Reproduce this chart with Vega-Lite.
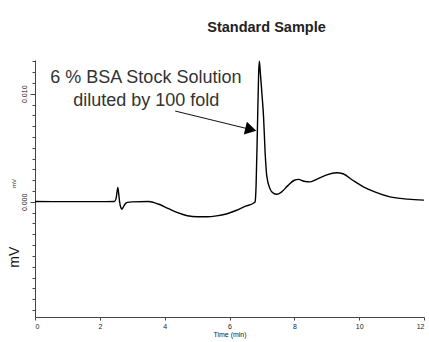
{
  "$schema": "https://vega.github.io/schema/vega-lite/v6.json",
  "autosize": {"type": "none"},
  "padding": {"left": 35, "top": 60, "right": 5, "bottom": 25},
  "width": 389,
  "height": 257,
  "background": "white",
  "config": {
    "view": {"stroke": null},
    "font": "Liberation Sans"
  },
  "title": {
    "text": "Standard Sample",
    "fontSize": 14.5,
    "fontWeight": "bold",
    "font": "Liberation Sans",
    "color": "#222",
    "anchor": "middle",
    "dx": 37,
    "offset": 25
  },
  "datasets": {
    "curve": [
      {"t": 0, "v": 0.00003},
      {"t": 1.0, "v": 0.00002},
      {"t": 2.0, "v": 0.00002},
      {"t": 2.45, "v": 0.00003},
      {"t": 2.5, "v": 0.0003},
      {"t": 2.53, "v": 0.0009},
      {"t": 2.555, "v": 0.00133},
      {"t": 2.58, "v": 0.0008},
      {"t": 2.61, "v": 0.0},
      {"t": 2.645, "v": -0.0005},
      {"t": 2.68, "v": -0.00068},
      {"t": 2.72, "v": -0.0005},
      {"t": 2.78, "v": -0.0002},
      {"t": 2.85, "v": -0.00005},
      {"t": 3.0, "v": 0.0},
      {"t": 3.5, "v": 0.00003},
      {"t": 3.8, "v": -0.0002},
      {"t": 4.1, "v": -0.0006},
      {"t": 4.4, "v": -0.001},
      {"t": 4.7, "v": -0.00128},
      {"t": 5.0, "v": -0.00138},
      {"t": 5.3, "v": -0.00138},
      {"t": 5.6, "v": -0.0013},
      {"t": 5.9, "v": -0.00112},
      {"t": 6.2, "v": -0.0008},
      {"t": 6.5, "v": -0.0004},
      {"t": 6.75, "v": -0.0001},
      {"t": 6.79, "v": 0.0},
      {"t": 6.82, "v": 0.0015},
      {"t": 6.86, "v": 0.0066},
      {"t": 6.9, "v": 0.012},
      {"t": 6.92, "v": 0.013},
      {"t": 6.95, "v": 0.012},
      {"t": 7.0, "v": 0.01},
      {"t": 7.05, "v": 0.0079},
      {"t": 7.1, "v": 0.0045},
      {"t": 7.15, "v": 0.0024},
      {"t": 7.25, "v": 0.0012},
      {"t": 7.35, "v": 0.0008},
      {"t": 7.46, "v": 0.0007},
      {"t": 7.6, "v": 0.0009},
      {"t": 7.8, "v": 0.0015},
      {"t": 8.0, "v": 0.002},
      {"t": 8.13, "v": 0.00208},
      {"t": 8.3, "v": 0.0019},
      {"t": 8.49, "v": 0.00185},
      {"t": 8.7, "v": 0.0021},
      {"t": 9.0, "v": 0.0025},
      {"t": 9.31, "v": 0.00269},
      {"t": 9.5, "v": 0.0026},
      {"t": 9.8, "v": 0.002},
      {"t": 10.13, "v": 0.00139},
      {"t": 10.5, "v": 0.0009},
      {"t": 10.95, "v": 0.00046},
      {"t": 11.5, "v": 0.00025},
      {"t": 12.0, "v": 0.00016}
    ],
    "arrow": [
      {"t": 4.325, "v": 0.0084, "t2": 6.658, "v2": 0.00669}
    ],
    "head": [
      {"t": 6.658, "v": 0.00669}
    ],
    "note": [
      {"t": 3.42, "v": 0.01099, "label": "6 % BSA Stock Solution"},
      {"t": 3.43, "v": 0.00885, "label": "diluted by 100 fold"}
    ],
    "unit": [
      {"t": -0.607, "v": -0.00512, "label": "mV"}
    ]
  },
  "resolve": {"axis": {"y": "independent"}},
  "layer": [
    {
      "data": {"name": "curve"},
      "mark": {"type": "line", "color": "#000", "strokeWidth": 1.4, "interpolate": "monotone", "clip": true},
      "encoding": {
        "x": {
          "field": "t",
          "type": "quantitative",
          "scale": {"domain": [0, 12], "nice": false, "zero": false},
          "axis": {
            "values": [0, 1, 2, 3, 4, 5, 6, 7, 8, 9, 10, 11, 12],
            "labelExpr": "datum.value % 2 == 0 ? datum.label : ''",
            "grid": false,
            "tickSize": 3,
            "tickColor": "#444",
            "domainColor": "#444",
            "labelFontSize": 7,
            "labelColor": "#222",
            "labelPadding": 2,
            "labelFont": "Liberation Sans",
            "title": "Time (min)",
            "titleFontSize": 7,
            "titleFontWeight": "normal",
            "titleColor": "#222222",
            "titlePadding": 1,
            "titleFont": "Liberation Sans"
          }
        },
        "y": {
          "field": "v",
          "type": "quantitative",
          "scale": {"domain": [-0.01065, 0.01312], "nice": false, "zero": false},
          "axis": {
            "values": [-0.01, -0.009, -0.008, -0.007, -0.006, -0.005, -0.004, -0.003, -0.002, -0.001, 0, 0.001, 0.002, 0.003, 0.004, 0.005, 0.006, 0.007, 0.008, 0.009, 0.01, 0.011, 0.012, 0.013],
            "labelExpr": "(abs(datum.value) < 0.000001 || abs(datum.value - 0.01) < 0.000001) ? format(datum.value, '.3f') : ''",
            "tickSize": 3,
            "grid": false,
            "tickColor": "#444",
            "domainColor": "#444",
            "labelAngle": 270,
            "labelAlign": "center",
            "labelBaseline": "bottom",
            "labelFontSize": 7,
            "labelColor": "#222",
            "labelPadding": 5,
            "labelOverlap": false,
            "labelFont": "Liberation Sans",
            "title": "mV",
            "titleFontSize": 6,
            "titleFontWeight": "normal",
            "titleColor": "#222",
            "titlePadding": 4,
            "titleFont": "Liberation Sans",
            "titleY": 123
          }
        }
      }
    },
    {
      "data": {"name": "arrow"},
      "mark": {"type": "rule", "color": "#111", "strokeWidth": 1},
      "encoding": {
        "x": {"field": "t", "type": "quantitative"},
        "y": {
          "field": "v",
          "type": "quantitative",
          "axis": {
            "orient": "left",
            "values": [0, 0.01],
            "labels": false,
            "title": null,
            "domain": false,
            "grid": false,
            "tickSize": 5,
            "tickColor": "#444"
          }
        },
        "x2": {"field": "t2"},
        "y2": {"field": "v2"}
      }
    },
    {
      "data": {"name": "head"},
      "mark": {"type": "point", "shape": "triangle-right", "filled": true, "color": "#000", "opacity": 1, "size": 170, "angle": 13.7},
      "encoding": {
        "x": {"field": "t", "type": "quantitative"},
        "y": {"field": "v", "type": "quantitative", "axis": null}
      }
    },
    {
      "data": {"name": "note"},
      "mark": {"type": "text", "fontSize": 18, "color": "#333", "align": "center", "baseline": "alphabetic", "font": "Liberation Sans"},
      "encoding": {
        "x": {"field": "t", "type": "quantitative"},
        "y": {"field": "v", "type": "quantitative", "axis": null},
        "text": {"field": "label"}
      }
    },
    {
      "data": {"name": "unit"},
      "mark": {"type": "text", "fontSize": 14, "color": "#111", "align": "center", "baseline": "middle", "angle": 270, "font": "Liberation Sans"},
      "encoding": {
        "x": {"field": "t", "type": "quantitative"},
        "y": {"field": "v", "type": "quantitative", "axis": null},
        "text": {"field": "label"}
      }
    }
  ]
}
